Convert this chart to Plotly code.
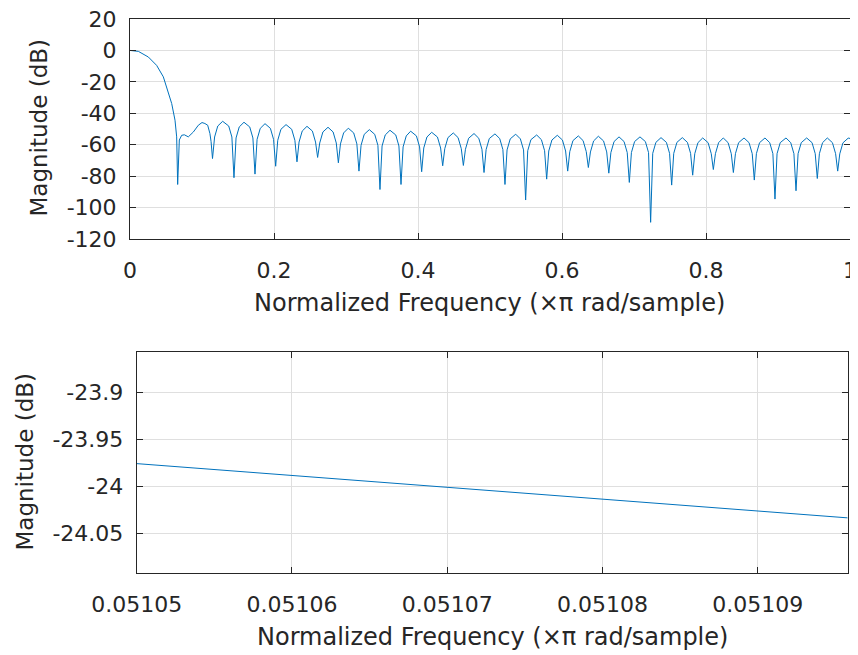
import plotly.graph_objects as go

# ---------------- data ----------------
# Top panel: magnitude response, normalized frequency (x pi rad/sample) vs dB
main_freq = [0.0000, 0.0116, 0.0255, 0.0370, 0.0463, 0.0510, 0.0545, 0.0579, 0.0625, 0.0648,
             0.0662, 0.0675, 0.0685, 0.0718, 0.0755, 0.0810, 0.0880, 0.0949, 0.1000, 0.1040,
             0.1079, 0.1110, 0.1126]
main_mag = [0.0, -0.6, -4.2, -9.5, -16.8, -23.9, -28.5, -33.8, -44.4, -55.0,
            -85.3, -62.0, -57.0, -54.0, -53.7, -55.0, -51.9, -47.6, -45.9, -46.5,
            -47.6, -52.9, -58.0]

lobe_freq = [
    0.1146, 0.1175, 0.1219, 0.1287, 0.1371, 0.1415,
    0.1444, 0.1473, 0.1517, 0.1583, 0.1663, 0.1707,
    0.1736, 0.1765, 0.1809, 0.1875, 0.1950, 0.1994,
    0.2023, 0.2052, 0.2096, 0.2167, 0.2246, 0.2290,
    0.2319, 0.2348, 0.2392, 0.2458, 0.2533, 0.2577,
    0.2606, 0.2635, 0.2679, 0.2750, 0.2821, 0.2865,
    0.2894, 0.2923, 0.2967, 0.3032, 0.3107, 0.3151,
    0.3180, 0.3209, 0.3253, 0.3324, 0.3399, 0.3443,
    0.3472, 0.3501, 0.3545, 0.3611, 0.3691, 0.3735,
    0.3764, 0.3793, 0.3837, 0.3898, 0.3978, 0.4022,
    0.4051, 0.4080, 0.4124, 0.4190, 0.4270, 0.4314,
    0.4343, 0.4372, 0.4416, 0.4490, 0.4557, 0.4601,
    0.4630, 0.4659, 0.4703, 0.4778, 0.4844, 0.4888,
    0.4917, 0.4946, 0.4990, 0.5069, 0.5135, 0.5179,
    0.5208, 0.5237, 0.5281, 0.5357, 0.5422, 0.5466,
    0.5495, 0.5524, 0.5568, 0.5648, 0.5714, 0.5758,
    0.5787, 0.5816, 0.5860, 0.5935, 0.6006, 0.6050,
    0.6079, 0.6108, 0.6152, 0.6227, 0.6293, 0.6337,
    0.6366, 0.6395, 0.6439, 0.6505, 0.6577, 0.6621,
    0.6650, 0.6679, 0.6723, 0.6792, 0.6862, 0.6906,
    0.6935, 0.6964, 0.7008, 0.7083, 0.7158, 0.7202,
    0.7231, 0.7260, 0.7304, 0.7375, 0.7450, 0.7494,
    0.7523, 0.7552, 0.7596, 0.7671, 0.7742, 0.7786,
    0.7815, 0.7844, 0.7888, 0.7954, 0.8029, 0.8073,
    0.8102, 0.8131, 0.8175, 0.8240, 0.8307, 0.8351,
    0.8380, 0.8409, 0.8453, 0.8528, 0.8598, 0.8642,
    0.8671, 0.8700, 0.8744, 0.8819, 0.8885, 0.8929,
    0.8958, 0.8987, 0.9031, 0.9111, 0.9177, 0.9221,
    0.9250, 0.9279, 0.9323, 0.9398, 0.9473, 0.9517,
    0.9546, 0.9575, 0.9619, 0.9685, 0.9756, 0.9800,
    0.9829, 0.9858, 0.9902, 0.9975, 1.0000,
]
lobe_mag = [
    -68.8, -55.1, -48.1, -45.1, -48.1, -55.1,
    -81.0, -55.7, -48.7, -45.7, -48.7, -55.7,
    -78.7, -56.6, -49.6, -46.6, -49.6, -56.6,
    -73.7, -57.2, -50.2, -47.2, -50.2, -57.2,
    -70.9, -58.3, -51.3, -48.3, -51.3, -58.3,
    -68.1, -58.9, -51.9, -48.9, -51.9, -58.9,
    -71.5, -59.5, -52.5, -49.5, -52.5, -59.5,
    -76.8, -60.4, -53.4, -50.4, -53.4, -60.4,
    -88.5, -60.8, -53.8, -50.8, -53.8, -60.8,
    -85.3, -61.4, -54.4, -51.4, -54.4, -61.4,
    -77.2, -62.1, -55.1, -52.1, -55.1, -62.1,
    -73.4, -62.5, -55.5, -52.5, -55.5, -62.5,
    -73.2, -62.9, -55.9, -52.9, -55.9, -62.9,
    -77.7, -63.1, -56.1, -53.1, -56.1, -63.1,
    -85.3, -63.3, -56.3, -53.3, -56.3, -63.3,
    -95.2, -63.8, -56.8, -53.8, -56.8, -63.8,
    -81.9, -64.0, -57.0, -54.0, -57.0, -64.0,
    -76.8, -64.4, -57.4, -54.4, -57.4, -64.4,
    -74.5, -64.6, -57.6, -54.6, -57.6, -64.6,
    -78.1, -65.0, -58.0, -55.0, -58.0, -65.0,
    -84.0, -65.0, -58.0, -55.0, -58.0, -65.0,
    -109.4, -65.5, -58.5, -55.5, -58.5, -65.5,
    -85.7, -65.5, -58.5, -55.5, -58.5, -65.5,
    -79.4, -65.7, -58.7, -55.7, -58.7, -65.7,
    -75.8, -65.7, -58.7, -55.7, -58.7, -65.7,
    -77.7, -65.7, -58.7, -55.7, -58.7, -65.7,
    -82.5, -65.7, -58.7, -55.7, -58.7, -65.7,
    -94.6, -65.7, -58.7, -55.7, -58.7, -65.7,
    -89.3, -65.7, -58.7, -55.7, -58.7, -65.7,
    -81.5, -65.7, -58.7, -55.7, -58.7, -65.7,
    -76.8, -65.8, -58.8, -55.8, -56.0,
]

top_freq = main_freq + lobe_freq
top_mag = main_mag + lobe_mag

# Bottom panel: zoomed-in view of the transition band
zoom_freq = [0.05105, 0.05106, 0.05107, 0.05108, 0.05109, 0.0510958]
zoom_mag = [-23.976, -23.9886, -24.001, -24.0138, -24.0266, -24.0337]

# Tick values / labels
top_xticks = [0, 0.2, 0.4, 0.6, 0.8, 1]
top_xlabels = ["0", "0.2", "0.4", "0.6", "0.8", "1"]
top_yticks = [20, 0, -20, -40, -60, -80, -100, -120]
top_ylabels = ["20", "0", "-20", "-40", "-60", "-80", "-100", "-120"]
bot_xticks = [0.05105, 0.05106, 0.05107, 0.05108, 0.05109]
bot_xlabels = ["0.05105", "0.05106", "0.05107", "0.05108", "0.05109"]
bot_yticks = [-23.9, -23.95, -24.0, -24.05]
bot_ylabels = ["-23.9", "-23.95", "-24", "-24.05"]

x_title = "Normalized Frequency (\u00d7\u03c0 rad/sample)"
y_title = "Magnitude (dB)"

# ---------------- figure ----------------
OFF = 8                      # page body margin in the browser
W, H = 858 - OFF, 655 - OFF
LINE = "#0072BD"
AX = "#262626"
GRID = "#dfdfdf"
FONT = "DejaVu Sans"
TF = 22

fig = go.Figure()
fig.add_trace(go.Scatter(x=top_freq, y=top_mag, mode="lines",
                         line=dict(color=LINE, width=1), xaxis="x", yaxis="y",
                         hoverinfo="skip"))
fig.add_trace(go.Scatter(x=zoom_freq, y=zoom_mag, mode="lines",
                         line=dict(color=LINE, width=1), xaxis="x2", yaxis="y2",
                         hoverinfo="skip"))

def ax_common():
    return dict(
        showline=True, linecolor=AX, linewidth=1, mirror="ticks",
        ticks="inside", ticklen=6, tickwidth=1, tickcolor=AX,
        showgrid=True, gridcolor=GRID, gridwidth=1, zeroline=False,
        tickfont=dict(family=FONT, size=TF, color=AX),
        ticklabeloverflow="allow",
        fixedrange=True, automargin=False,
    )

def px_x(p):
    return (p - OFF) / W

def px_y(p):
    return (H - (p - OFF)) / H

fig.update_layout(
    width=W, height=H,
    margin=dict(l=0, r=0, t=0, b=0, autoexpand=False),
    paper_bgcolor="white", plot_bgcolor="white",
    showlegend=False,
    xaxis=dict(domain=[px_x(130), px_x(850)], range=[0, 1], anchor="y",
               tickmode="array", tickvals=top_xticks, ticktext=top_xlabels,
               ticklabelstandoff=12, **ax_common()),
    yaxis=dict(domain=[px_y(239), px_y(19)], range=[-120, 20], anchor="x",
               tickmode="array", tickvals=top_yticks, ticktext=top_ylabels,
               ticklabelstandoff=8, **ax_common()),
    xaxis2=dict(domain=[px_x(136.7), px_x(847.7)], range=[0.05105, 0.0510958], anchor="y2",
                tickmode="array", tickvals=bot_xticks, ticktext=bot_xlabels,
                ticklabelstandoff=12, **ax_common()),
    yaxis2=dict(domain=[px_y(572.7), px_y(351.7)], range=[-24.092, -23.857], anchor="x2",
                tickmode="array", tickvals=bot_yticks, ticktext=bot_ylabels,
                ticklabelstandoff=8, **ax_common()),
)

def title_ann(text, cx, cy, size, angle=0):
    return dict(text=text, x=px_x(cx), y=px_y(cy), xref="paper", yref="paper",
                xanchor="center", yanchor="middle", showarrow=False, textangle=angle,
                font=dict(family=FONT, size=size, color=AX))

fig.update_layout(annotations=[
    title_ann(x_title, 490, 303, 24),
    title_ann(y_title, 38.5, 128, 23, -90),
    title_ann(x_title, 492, 637, 24),
    title_ann(y_title, 24, 461.5, 23, -90),
])

fig.write_html("out.html")
